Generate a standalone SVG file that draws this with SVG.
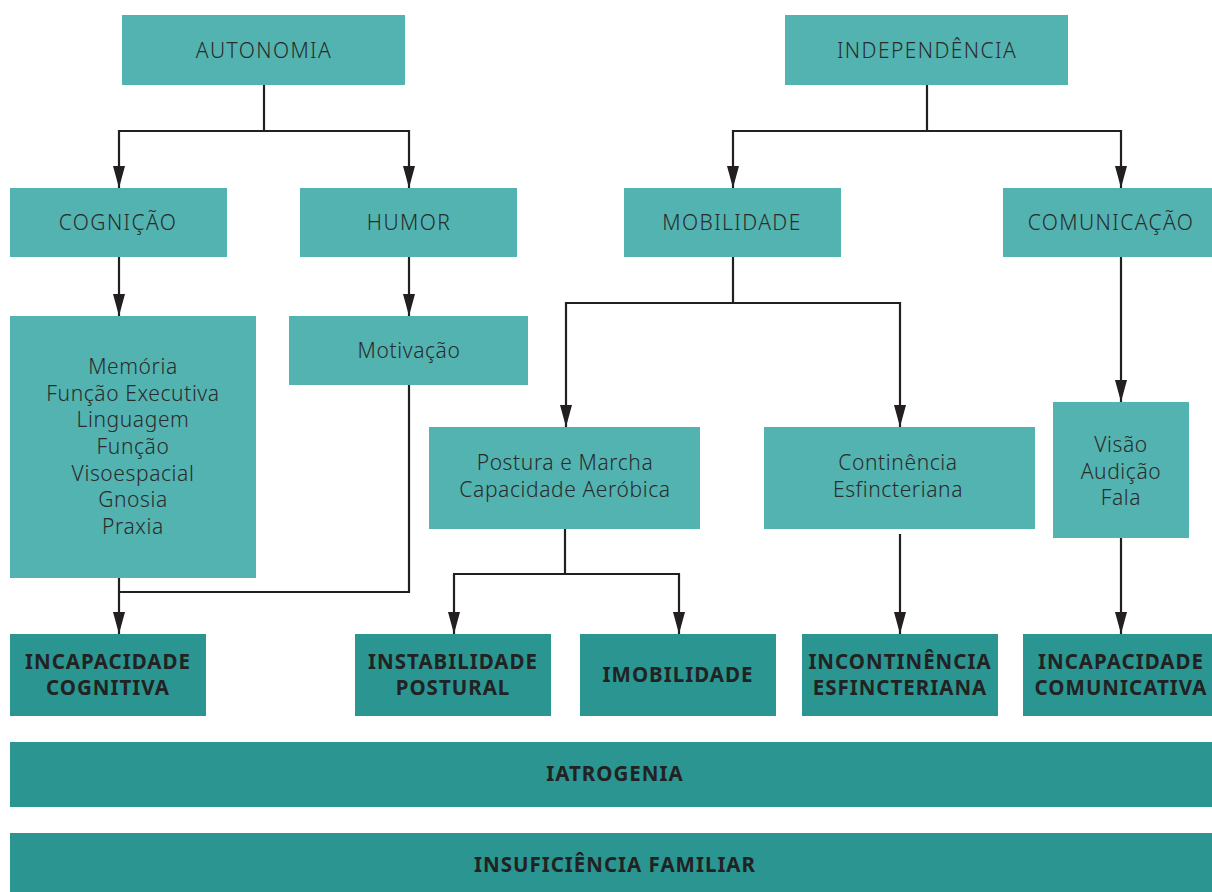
<svg xmlns="http://www.w3.org/2000/svg" width="1212" height="892" viewBox="0 0 1212 892">
<style>
.l{fill:#52b3b0}
.d{fill:#2a9591}
.t{font-family:"Noto Sans","Open Sans",sans-serif;font-size:21px;fill:#2b2b2b;text-anchor:middle;font-weight:300;letter-spacing:0.6px}
.u{letter-spacing:1.4px}
.b{font-family:"Noto Sans","Open Sans",sans-serif;font-size:20.5px;fill:#222;text-anchor:middle;font-weight:bold;letter-spacing:1px}
.c{fill:none;stroke:#231f20;stroke-width:2.2}
</style>
<defs>
<marker id="ah" markerUnits="userSpaceOnUse" viewBox="0 0 22 12" refX="22" refY="6" markerWidth="22" markerHeight="12" orient="auto">
<path d="M0,0 L22,6 L0,12 z" fill="#231f20"/>
</marker>
</defs>
<rect width="1212" height="892" fill="#fff"/>
<g id="connectors">
<path class="c" d="M264,85 V131"/>
<path class="c" d="M264,131 H119 V188" marker-end="url(#ah)"/>
<path class="c" d="M264,131 H409 V188" marker-end="url(#ah)"/>
<path class="c" d="M927,85 V131"/>
<path class="c" d="M927,131 H733 V188" marker-end="url(#ah)"/>
<path class="c" d="M927,131 H1121 V188" marker-end="url(#ah)"/>
<path class="c" d="M119,257 V316" marker-end="url(#ah)"/>
<path class="c" d="M409,257 V316" marker-end="url(#ah)"/>
<path class="c" d="M409,385 V592 H119"/>
<path class="c" d="M119,578 V634" marker-end="url(#ah)"/>
<path class="c" d="M733,257 V303"/>
<path class="c" d="M733,303 H566 V427" marker-end="url(#ah)"/>
<path class="c" d="M733,303 H900 V427" marker-end="url(#ah)"/>
<path class="c" d="M1121,257 V402" marker-end="url(#ah)"/>
<path class="c" d="M565,529 V574"/>
<path class="c" d="M565,574 H454 V634" marker-end="url(#ah)"/>
<path class="c" d="M565,574 H679 V634" marker-end="url(#ah)"/>
<path class="c" d="M900,534 V634" marker-end="url(#ah)"/>
<path class="c" d="M1121,534 V634" marker-end="url(#ah)"/>
</g>
<g id="autonomia"><rect class="l" x="122" y="15" width="283" height="70"/><text class="t u" x="264" y="58">AUTONOMIA</text></g>
<g id="independencia"><rect class="l" x="785" y="15" width="283" height="70"/><text class="t u" x="927" y="58">INDEPENDÊNCIA</text></g>
<g id="cognicao"><rect class="l" x="10" y="188" width="217" height="69"/><text class="t u" x="118" y="230">COGNIÇÃO</text></g>
<g id="humor"><rect class="l" x="300" y="188" width="217" height="69"/><text class="t u" x="409" y="230">HUMOR</text></g>
<g id="mobilidade"><rect class="l" x="624" y="188" width="217" height="69"/><text class="t u" x="732" y="230">MOBILIDADE</text></g>
<g id="comunicacao"><rect class="l" x="1003" y="188" width="209" height="69"/><text class="t u" x="1111" y="230">COMUNICAÇÃO</text></g>
<g id="memoria"><rect class="l" x="10" y="316" width="246" height="262"/>
<text class="t" x="133" y="374">Memória</text>
<text class="t" x="133" y="401">Função Executiva</text>
<text class="t" x="133" y="427">Linguagem</text>
<text class="t" x="133" y="454">Função</text>
<text class="t" x="133" y="481">Visoespacial</text>
<text class="t" x="133" y="507">Gnosia</text>
<text class="t" x="133" y="534">Praxia</text>
</g>
<g id="motivacao"><rect class="l" x="289" y="316" width="239" height="69"/><text class="t" x="409" y="358">Motivação</text></g>
<g id="postura"><rect class="l" x="429" y="427" width="271" height="102"/>
<text class="t" x="565" y="470">Postura e Marcha</text>
<text class="t" x="565" y="497">Capacidade Aeróbica</text></g>
<g id="continencia"><rect class="l" x="764" y="427" width="271" height="102"/>
<text class="t" x="898" y="470">Continência</text>
<text class="t" x="898" y="497">Esfincteriana</text></g>
<g id="visao"><rect class="l" x="1053" y="402" width="136" height="136"/>
<text class="t" x="1121" y="452">Visão</text>
<text class="t" x="1121" y="479">Audição</text>
<text class="t" x="1121" y="505">Fala</text></g>
<g id="incap-cog"><rect class="d" x="10" y="634" width="196" height="82"/>
<text class="b" x="108" y="669">INCAPACIDADE</text><text class="b" x="108" y="695">COGNITIVA</text></g>
<g id="instab"><rect class="d" x="355" y="634" width="196" height="82"/>
<text class="b" x="453" y="669">INSTABILIDADE</text><text class="b" x="453" y="695">POSTURAL</text></g>
<g id="imob"><rect class="d" x="580" y="634" width="196" height="82"/>
<text class="b" x="678" y="682">IMOBILIDADE</text></g>
<g id="incont"><rect class="d" x="802" y="634" width="196" height="82"/>
<text class="b" x="900" y="669">INCONTINÊNCIA</text><text class="b" x="900" y="695">ESFINCTERIANA</text></g>
<g id="incap-com"><rect class="d" x="1023" y="634" width="189" height="82"/>
<text class="b" x="1121" y="669">INCAPACIDADE</text><text class="b" x="1121" y="695">COMUNICATIVA</text></g>
<g id="iatrogenia"><rect class="d" x="10" y="742" width="1202" height="65"/>
<text class="b" x="615" y="781">IATROGENIA</text></g>
<g id="insuficiencia"><rect class="d" x="10" y="833" width="1202" height="59"/>
<text class="b" x="615" y="872">INSUFICIÊNCIA FAMILIAR</text></g>
</svg>
